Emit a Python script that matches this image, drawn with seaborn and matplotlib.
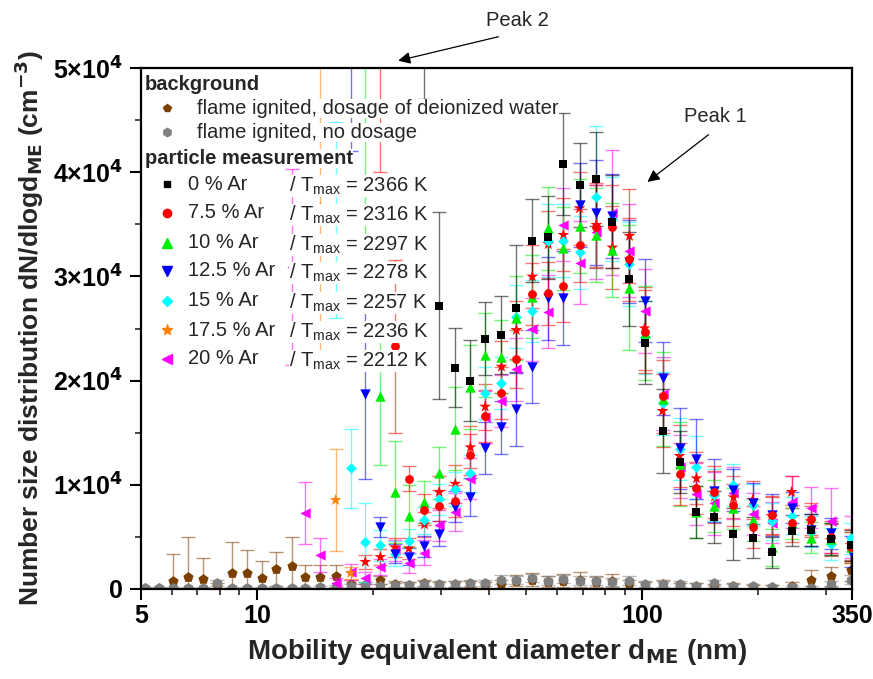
import numpy as np
import pandas as pd
import matplotlib
matplotlib.use("Agg")
import matplotlib.pyplot as plt
from matplotlib.ticker import NullFormatter
import seaborn as sns

nan = np.nan

# ---------------- data ----------------
diameter_nm = [5.12, 5.57, 6.06, 6.62, 7.25, 7.88, 8.62, 9.42, 10.3, 11.2,
               12.3, 13.3, 14.6, 16.0, 17.5, 19.1, 20.9, 22.8, 24.8, 27.2,
               29.7, 32.7, 35.8, 39.1, 43.1, 47.1, 51.8, 57.0, 62.4, 68.7,
               76.0, 83.6, 92.6, 101.3, 112.8, 124.9, 138.2, 153.9, 172.4, 193.2,
               216.4, 243.9, 273.3, 308.0, 347.2]

bg_water = [50, 50, 770, 1150, 960, 300, 1540, 1540, 1060, 1920,
            2200, 1150, 1150, 1250, 500, 400, 860, 450, 400, 600,
            400, 500, 450, 350, 500, 800, 900, 700, 800, 900,
            700, 800, 500, 350, 500, 300, 300, 250, 300, 150,
            150, 300, 900, 1200, 1800]
bg_water_err = [50, 50, 2600, 3840, 2000, 300, 2980, 2240, 1600, 1600,
                2800, 1200, 1200, 1100, 400, 300, 400, 300, 300, 300,
                300, 300, 300, 300, 400, 500, 600, 500, 600, 700,
                500, 600, 400, 300, 400, 300, 300, 250, 300, 200,
                200, 400, 900, 900, 1000]

bg_none = [100, 100, 100, 100, 100, 580, 100, 100, 100, 100,
           100, 100, 150, 200, 250, 250, 300, 350, 400, 450,
           500, 500, 550, 600, 900, 850, 1050, 800, 950, 800,
           750, 700, 800, 500, 500, 500, 300, 600, 250, 250,
           200, 150, 100, 500, 900]
bg_none_err = [100, 100, 100, 100, 100, 300, 100, 100, 100, 100,
               100, 100, 150, 200, 200, 200, 200, 250, 250, 300,
               300, 300, 300, 300, 400, 400, 400, 400, 400, 400,
               400, 400, 400, 300, 300, 300, 250, 300, 200, 200,
               200, 150, 150, 300, 400]

ar00 = [nan]*19 + [58000, 27190, 21250, 20000, 24000, 24380, 26940, 33440, 33760, 40800,
                   38780, 39360, 35260, 29750, 23650, 15170, 12170, 7360, 6940, 5250,
                   4930, 3520, 5600, 5660, 4800, 4200]
ar00_err = [nan]*19 + [11000, 9000, 3800, 3900, 3500, 3700, 6100, 4000, 4000, 4900,
                       4000, 4500, 4500, 4500, 4000, 4000, 3000, 2500, 2500, 2500,
                       2000, 1500, 1500, 1500, 1500, 1500]

ar075 = [nan]*16 + [58000, 23300, 10600, 7600, 8000, 8450, 12900, 16610, 18780, 22080,
                    28310, 28380, 29110, 32990, 34780, 34780, 31650, 24700, 18500, 11040,
                    9660, 9340, 8060, 5980, 7100, 6300, 6720, 5000, 4000]
ar075_err = [nan]*16 + [18000, 8300, 1200, 1500, 1500, 1500, 2000, 2500, 2500, 2800,
                        3000, 3000, 3500, 3500, 4000, 4000, 4000, 4000, 3500, 3000,
                        2500, 2500, 2000, 2000, 1800, 1800, 1500, 1500, 1500]

ar10 = [nan]*15 + [56000, 18500, 9300, 7000, 8350, 11100, 15400, 19400, 22460, 22300,
                   26000, 28060, 34620, 32700, 34840, 34000, 32540, 28920, 24540, 18200,
                   12000, 7360, 8000, 7740, 6620, 4000, 6300, 4930, 4800, 4000]
ar10_err = [nan]*15 + [22000, 6600, 4900, 3000, 2000, 2500, 4000, 4000, 4000, 3500,
                       4000, 4000, 4000, 4000, 4500, 4500, 4500, 6000, 4500, 4500,
                       4000, 2500, 2500, 2000, 2000, 1800, 1500, 1500, 1500, 1500]

ar125 = [nan]*14 + [55000, 18700, 5950, 3400, 3100, 4100, 5300, 7900, 8850, 13500,
                    15500, 17250, 21340, 27900, 27960, 36860, 36130, 35800, 31420, 27670,
                    20220, 13500, 12480, 9440, 9500, 8220, 7100, 7810, 5660, 5340, 3580]
ar125_err = [nan]*14 + [13000, 8100, 1000, 900, 800, 1000, 1200, 1500, 1800, 2500,
                        2500, 3500, 3500, 4000, 4500, 4000, 5000, 4000, 4000, 4000,
                        3500, 3900, 3800, 3000, 2000, 2000, 2000, 1500, 1500, 1500, 1500]

ar15 = [nan]*13 + [35400, 11600, 4500, 4200, 3400, 4600, 6600, 8600, 9600, 11100,
                   18780, 19740, 26140, 26680, 33440, 33440, 32320, 37600, 35520, 31200,
                   24160, 17820, 13440, 11680, 9000, 9980, 8060, 6500, 7040, 5500, 4320, 4860]
ar15_err = [nan]*13 + [9400, 3800, 3800, 1500, 1200, 1200, 1300, 1500, 1600, 1800,
                       2500, 2500, 3000, 3000, 3500, 3500, 3500, 6800, 4000, 4000,
                       3500, 3000, 3000, 3000, 2500, 2000, 2000, 1800, 1800, 1500, 1500, 1500]

ar175 = [nan]*12 + [36600, 8540, 1540, 2600, 3070, 4000, 3900, 6200, 9300, 10100,
                    13600, 17500, 21340, 24860, 29980, 33090, 33980, 36540, 34940, 32770,
                    33890, 25020, 17090, 12770, 10620, 8860, 8800, 8540, 7000, 9310,
                    6500, 4700, 4220]
ar175_err = [nan]*12 + [14400, 4900, 600, 700, 800, 900, 1000, 1200, 1500, 1800,
                        2000, 2200, 2500, 2800, 3000, 3200, 3500, 3500, 4000, 4000,
                        4500, 4000, 3500, 3000, 2500, 2500, 2000, 1800, 1800, 1500,
                        1500, 1500, 1500]

ar20 = [nan]*10 + [30900, 7300, 3260, 550, 1630, 1060, 2100, 3700, 2500, 3500,
                   6100, 7400, 10600, 16500, 18080, 21090, 24920, 26620, 34940, 31330,
                   34240, 36130, 32480, 26680, 18720, 11740, 9120, 8220, 9250, 7170,
                   6370, 8380, 7810, 6560, 5000]
ar20_err = [nan]*10 + [9400, 3000, 1600, 500, 800, 600, 800, 1000, 1000, 1200,
                       1500, 1800, 2000, 2500, 2500, 3000, 3000, 3500, 3500, 4000,
                       4500, 6000, 4500, 4000, 3500, 3000, 3000, 3000, 2500, 2000,
                       2000, 2500, 2000, 3100, 2000]

bg_labels = ["flame ignited, dosage of deionized water", "flame ignited, no dosage"]
ar_labels = ["0 % Ar", "7.5 % Ar", "10 % Ar", "12.5 % Ar", "15 % Ar", "17.5 % Ar", "20 % Ar"]
t_max = [2366, 2316, 2297, 2278, 2257, 2236, 2212]

x_ticks = [5, 10, 100, 350]
x_ticklabels = ["5", "10", "100", "350"]
x_minor = [6, 7, 8, 9, 20, 30, 40, 50, 60, 70, 80, 90, 200, 300]
y_ticks = [0, 10000, 20000, 30000, 40000, 50000]
y_ticklabels = ["0"] + [r"%d×10$^{\mathbf{4}}$" % k for k in range(1, 6)]
y_minor = [5000, 15000, 25000, 35000, 45000]

# ---------------- style ----------------
sns.set_style("ticks")
plt.rcParams["font.family"] = ["Liberation Sans", "DejaVu Sans"]
plt.rcParams["mathtext.fontset"] = "custom"
plt.rcParams["mathtext.rm"] = "Liberation Sans"
plt.rcParams["mathtext.it"] = "Liberation Sans:italic"
plt.rcParams["mathtext.bf"] = "Liberation Sans Narrow:bold"
NARROW = ["Liberation Sans Narrow", "Liberation Sans", "DejaVu Sans"]

fig = plt.figure(figsize=(8.73, 6.79), dpi=100)
W, H = 873, 679
L, R, T, B = 141, 852, 68, 589
ax = fig.add_axes([L / W, 1 - B / H, (R - L) / W, (B - T) / H])

df = pd.DataFrame({"d": diameter_nm})

series = [
    # values, errors, marker, colour, size, zorder
    (bg_water, bg_water_err, "p", "#7B3F00", 60, 2),
    (bg_none, bg_none_err, "h", "#808080", 60, 2.1),
    (ar20, ar20_err, "<", "#FF00FF", 55, 3),
    (ar175, ar175_err, "*", None, 80, 3.1),
    (ar15, ar15_err, "D", "#00FFFF", 30, 3.2),
    (ar125, ar125_err, "v", "#0000FF", 55, 3.3),
    (ar10, ar10_err, "^", "#00EE00", 55, 3.4),
    (ar075, ar075_err, "o", "#FF0000", 40, 3.5),
    (ar00, ar00_err, "s", "#000000", 32, 3.6),
]
star_colours = ["#FF8000"] * 15 + ["#FF0000"] * 30

for vals, errs, mk, col, size, z in series:
    sub = df.assign(v=vals, e=errs).dropna()
    if col is None:
        cols = [c for c, v in zip(star_colours, vals) if not np.isnan(v)]
        for (dd, vv, ee), cc in zip(sub[["d", "v", "e"]].values, cols):
            ax.errorbar([dd], [vv], yerr=[ee], fmt="none", ecolor=cc, elinewidth=1.0,
                        capsize=5, capthick=1.0, alpha=0.55, zorder=z - 1)
        sns.scatterplot(data=sub, x="d", y="v", marker=mk, c=cols, s=size,
                        linewidth=0, ax=ax, zorder=z, legend=False)
    else:
        ax.errorbar(sub["d"], sub["v"], yerr=sub["e"], fmt="none", ecolor=col,
                    elinewidth=1.0, capsize=5, capthick=1.0, alpha=0.55, zorder=z - 1)
        sns.scatterplot(data=sub, x="d", y="v", marker=mk, color=col, s=size,
                        linewidth=0, ax=ax, zorder=z, legend=False)

ax.set_xscale("log")
ax.set_xlim(5, 350)
ax.set_ylim(0, 50000)
ax.set_xticks(x_ticks)
ax.set_xticklabels(x_ticklabels)
ax.set_xticks(x_minor, minor=True)
ax.xaxis.set_minor_formatter(NullFormatter())
ax.set_yticks(y_ticks)
ax.set_yticklabels(y_ticklabels)
ax.set_yticks(y_minor, minor=True)

for lab in ax.get_xticklabels() + ax.get_yticklabels():
    lab.set_fontfamily(NARROW)
    lab.set_fontweight("bold")
    lab.set_fontsize(18)

ax.tick_params(which="major", direction="out", length=8, width=1.5, pad=5, colors="black")
ax.tick_params(axis="x", which="major", pad=3)
ax.tick_params(which="minor", direction="out", length=4, width=1.2)
ax.tick_params(top=False, right=False, which="both")
for sp in ax.spines.values():
    sp.set_visible(True)
    sp.set_linewidth(1.6)
    sp.set_color("black")

ax.set_xlabel(r"Mobility equivalent diameter d$_{\mathbf{ME}}$ (nm)", fontsize=20,
              fontweight="bold", family=NARROW, labelpad=6)
ax.set_ylabel(r"Number size distribution dN/dlogd$_{\mathbf{ME}}$ (cm$^{\mathbf{-3}}$)",
              fontsize=19, fontweight="bold", family=NARROW, labelpad=5)


# ---------------- legend (manual, inside axes) ----------------
def axc(px, py):
    return ((px - L) / (R - L), (B - py) / (B - T))


box = dict(facecolor="white", edgecolor="none", pad=0.0)
FS = 14.5

ax.text(*axc(145, 85), "background", transform=ax.transAxes, fontsize=FS,
        fontweight="bold", va="center", ha="left", zorder=10, bbox=box)
ax.text(*axc(145, 158), "particle measurement", transform=ax.transAxes, fontsize=FS,
        fontweight="bold", va="center", ha="left", zorder=10, bbox=box)

bg_rows = [(108, "p", "#7B3F00"), (132, "h", "#808080")]
for (py, mk, col), lab in zip(bg_rows, bg_labels):
    ax.plot(*axc(167, py), marker=mk, color=col, markersize=6, linestyle="none",
            transform=ax.transAxes, clip_on=False, zorder=11)
    ax.text(*axc(197, py), lab, transform=ax.transAxes, fontsize=FS, va="center",
            ha="left", zorder=10, bbox=box)

ar_rows = [(184, "s", "#000000", 5), (213, "o", "#FF0000", 6), (243, "^", "#00EE00", 6.5),
           (271, "v", "#0000FF", 6.5), (301, "D", "#00FFFF", 5.5), (330, "*", "#FF8000", 8),
           (359, "<", "#FF00FF", 6.5)]
for (py, mk, col, ms), lab, tm in zip(ar_rows, ar_labels, t_max):
    ax.plot(*axc(167, py), marker=mk, color=col, markersize=ms, linestyle="none",
            transform=ax.transAxes, clip_on=False, zorder=11)
    ax.text(*axc(188, py), lab, transform=ax.transAxes, fontsize=FS, va="center",
            ha="left", zorder=10, bbox=box)
    ax.text(*axc(289, py + 2), r"/ T$_{\mathrm{max}}$ = %d K" % tm, transform=ax.transAxes,
            fontsize=FS, va="center", ha="left", zorder=10, bbox=box)

# ---------------- peak annotations ----------------
arrow = dict(arrowstyle="-|>", color="black", lw=0.9, mutation_scale=18, shrinkA=0, shrinkB=0)
ax.annotate("", xy=(23.25, 50700), xytext=(42.3, 53000), arrowprops=arrow,
            annotation_clip=False)
ax.text(47.4, 54600, "Peak 2", fontsize=FS, ha="center", va="center", clip_on=False)
ax.annotate("", xy=(103.1, 39070), xytext=(148.5, 43600), arrowprops=arrow,
            annotation_clip=False)
ax.text(154.8, 45300, "Peak 1", fontsize=FS, ha="center", va="center", clip_on=False)

fig.savefig("out.png", dpi=100)
